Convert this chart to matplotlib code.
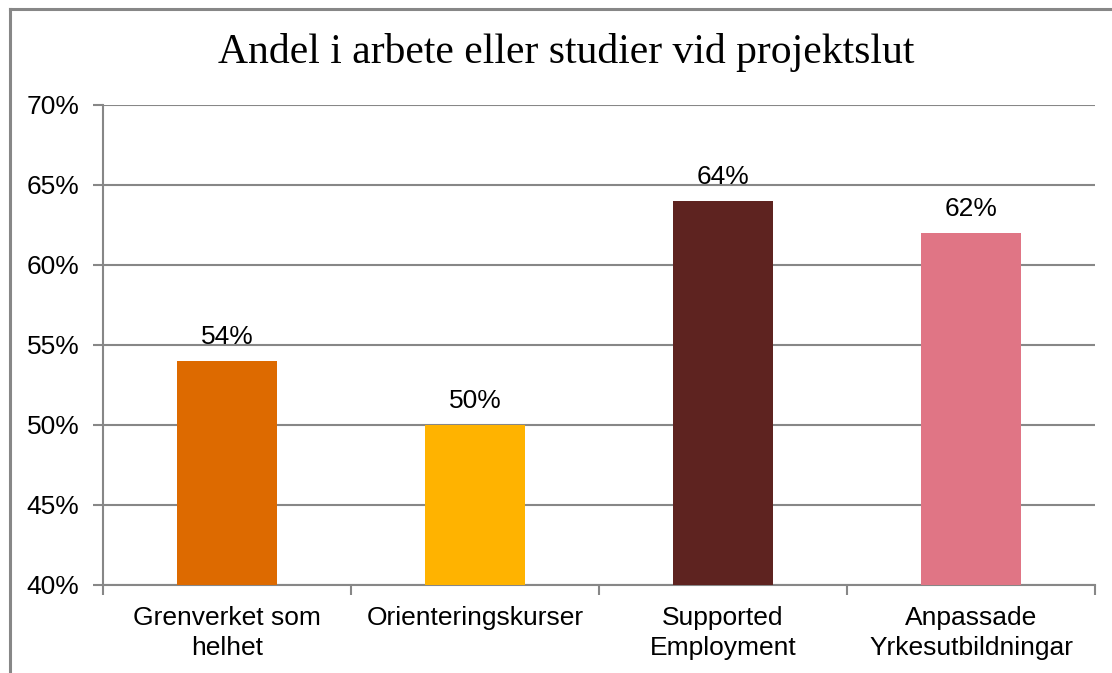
import matplotlib
matplotlib.use("Agg")
import matplotlib.pyplot as plt
from matplotlib.lines import Line2D

# data
categories = ["Grenverket som\nhelhet", "Orienteringskurser", "Supported\nEmployment", "Anpassade\nYrkesutbildningar"]
values = [54, 50, 64, 62]
bar_colors = ["#DD6A00", "#FFB300", "#5E2320", "#E07585"]
yticks = [40, 45, 50, 55, 60, 65, 70]
title = "Andel i arbete eller studier vid projektslut"

grey = "#878787"
fs = 19

fig = plt.figure(figsize=(11.12, 6.73), dpi=100)
ax = fig.add_axes([103 / 1112, 1 - 585 / 673, 992 / 1112, 480 / 673])

x = list(range(len(categories)))
ax.bar(x, values, width=0.4, color=bar_colors, zorder=3)
for xi, v in zip(x, values):
    ax.annotate(f"{v}%", (xi, v), xytext=(0, 9), textcoords="offset points",
                ha="center", va="bottom", fontsize=fs, family="Liberation Sans", zorder=4)

ax.set_xlim(-0.5, len(categories) - 0.5)
ax.set_ylim(40, 70)
ax.set_yticks(yticks)
ax.set_yticklabels([f"{t}%" for t in yticks], family="Liberation Sans", fontsize=fs)
ax.yaxis.grid(True, color=grey, linewidth=1.5, zorder=0)

# category labels centred, ticks at the boundaries
ax.set_xticks(x)
ax.set_xticklabels(categories, family="Liberation Sans", fontsize=fs, linespacing=1.35)
ax.tick_params(axis="x", length=0, pad=15)
ax.set_xticks([i - 0.5 for i in range(len(categories) + 1)], minor=True)
ax.tick_params(axis="x", which="minor", length=7, width=1.5, color=grey)
ax.tick_params(axis="y", length=7, width=1.5, color=grey, pad=10)

for s in ["top", "right"]:
    ax.spines[s].set_visible(False)
for s in ["left", "bottom"]:
    ax.spines[s].set_color(grey)
    ax.spines[s].set_linewidth(1.5)

fig.text(566 / 1112, 1 - 52 / 673, title, ha="center", va="center",
         fontsize=30, family="Liberation Serif")

# outer chart frame (cropped on the right/bottom)
fig.add_artist(Line2D([9.5 / 1112, 1], [1 - 9 / 673] * 2, color=grey, linewidth=2.2))
fig.add_artist(Line2D([9.5 / 1112] * 2, [0, 1 - 9 / 673], color=grey, linewidth=2.2))

fig.savefig("out.png", dpi=100)
